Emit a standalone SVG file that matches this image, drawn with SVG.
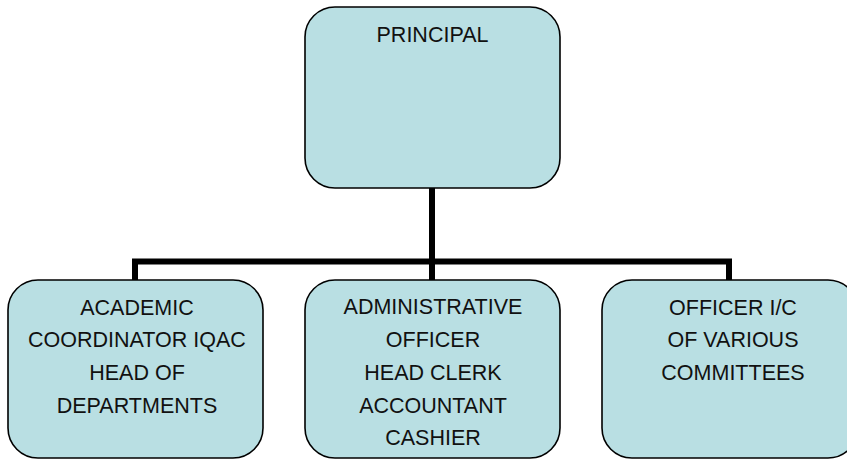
<svg xmlns="http://www.w3.org/2000/svg" width="847" height="459" viewBox="0 0 847 459">
<style>
.box{fill:#b9dfe3;stroke:#000;stroke-width:1.6}
.t{font-family:"Liberation Sans",Arial,sans-serif;font-size:21.5px;fill:#111;text-anchor:middle}
.c{fill:none;stroke:#000;stroke-width:6;stroke-linejoin:miter;stroke-linecap:butt}
</style>
<rect width="847" height="459" fill="#fff"/>
<g id="connectors">
<path class="c" d="M432 188V262M135 280V261.5H729V280M432 262V280"/>
</g>
<g id="principal">
<rect class="box" x="305" y="7" width="255" height="181" rx="30"/>
<text class="t" x="432.5" y="42">PRINCIPAL</text>
</g>
<g id="academic">
<rect class="box" x="8" y="280" width="255" height="178" rx="30"/>
<text class="t" x="137" y="315">ACADEMIC</text>
<text class="t" x="137" y="347">COORDINATOR IQAC</text>
<text class="t" x="137" y="380">HEAD OF</text>
<text class="t" x="137" y="413">DEPARTMENTS</text>
</g>
<g id="administrative">
<rect class="box" x="305" y="280" width="255" height="178" rx="30"/>
<text class="t" x="433" y="314">ADMINISTRATIVE</text>
<text class="t" x="433" y="347">OFFICER</text>
<text class="t" x="433" y="380">HEAD CLERK</text>
<text class="t" x="433" y="413">ACCOUNTANT</text>
<text class="t" x="433" y="445">CASHIER</text>
</g>
<g id="committees">
<rect class="box" x="602" y="280" width="256" height="178" rx="30"/>
<text class="t" x="733" y="315">OFFICER I/C</text>
<text class="t" x="733" y="347">OF VARIOUS</text>
<text class="t" x="733" y="380">COMMITTEES</text>
</g>
</svg>
